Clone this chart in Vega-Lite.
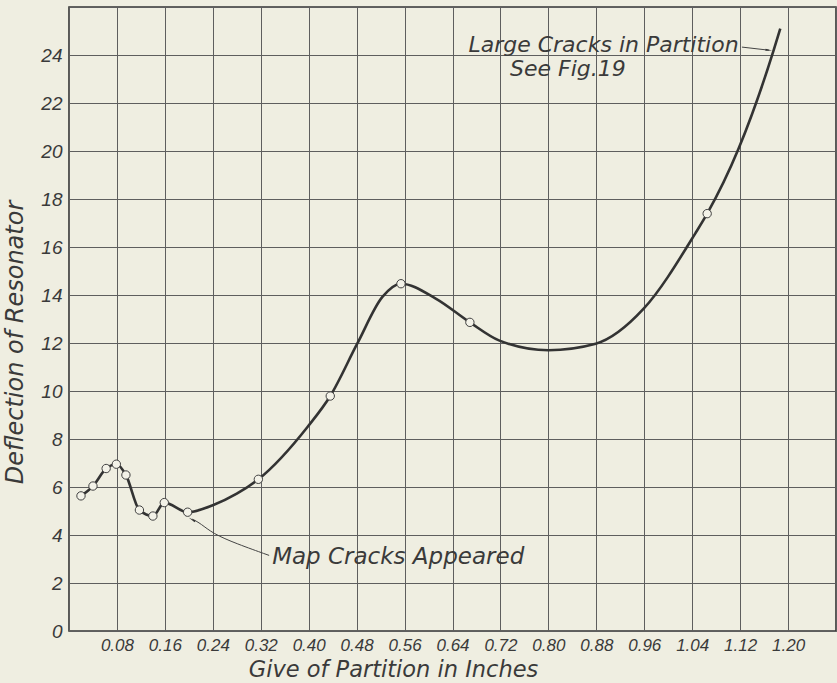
{
  "$schema": "https://vega.github.io/schema/vega-lite/v6.json",
  "width": 767,
  "height": 624,
  "autosize": {"type": "none"},
  "padding": {"left": 69, "top": 7, "right": 1, "bottom": 52},
  "background": "#efeee1",
  "config": {
    "view": {"stroke": "#353535", "strokeWidth": 1.6},
    "font": "DejaVu Sans",
    "axis": {
      "labelFont": "Liberation Sans", "labelFontStyle": "italic", "labelColor": "#3a3a3a",
      "titleFont": "DejaVu Sans", "titleFontStyle": "italic", "titleFontWeight": "normal", "titleColor": "#3a3a3a",
      "gridColor": "#5e5e5e", "gridWidth": 1, "gridOpacity": 1,
      "domain": false, "ticks": false
    }
  },
  "datasets": {
    "points": [
      {"give": 0.020, "deflection": 5.63},
      {"give": 0.040, "deflection": 6.04},
      {"give": 0.062, "deflection": 6.77},
      {"give": 0.079, "deflection": 6.95},
      {"give": 0.095, "deflection": 6.50},
      {"give": 0.1175, "deflection": 5.04},
      {"give": 0.140, "deflection": 4.79},
      {"give": 0.159, "deflection": 5.35},
      {"give": 0.198, "deflection": 4.95},
      {"give": 0.316, "deflection": 6.32},
      {"give": 0.436, "deflection": 9.79},
      {"give": 0.554, "deflection": 14.47},
      {"give": 0.669, "deflection": 12.86},
      {"give": 1.065, "deflection": 17.39}
    ],
    "curve": [
      {"give": 0.020, "deflection": 5.63},
      {"give": 0.040, "deflection": 6.04},
      {"give": 0.062, "deflection": 6.77},
      {"give": 0.079, "deflection": 6.95},
      {"give": 0.095, "deflection": 6.50},
      {"give": 0.1175, "deflection": 5.04},
      {"give": 0.140, "deflection": 4.79},
      {"give": 0.159, "deflection": 5.35},
      {"give": 0.198, "deflection": 4.95},
      {"give": 0.240, "deflection": 5.24},
      {"give": 0.280, "deflection": 5.72},
      {"give": 0.316, "deflection": 6.32},
      {"give": 0.398, "deflection": 8.50},
      {"give": 0.436, "deflection": 9.79},
      {"give": 0.481, "deflection": 11.97},
      {"give": 0.523, "deflection": 13.92},
      {"give": 0.554, "deflection": 14.47},
      {"give": 0.612, "deflection": 13.85},
      {"give": 0.669, "deflection": 12.86},
      {"give": 0.7175, "deflection": 12.11},
      {"give": 0.800, "deflection": 11.70},
      {"give": 0.879, "deflection": 11.97},
      {"give": 0.959, "deflection": 13.43},
      {"give": 1.045, "deflection": 16.56},
      {"give": 1.065, "deflection": 17.39},
      {"give": 1.1175, "deflection": 20.10},
      {"give": 1.176, "deflection": 24.20},
      {"give": 1.187, "deflection": 25.10}
    ],
    "leader": [
      {"give": 0.334, "deflection": 3.15},
      {"give": 0.279, "deflection": 3.64},
      {"give": 0.240, "deflection": 4.06},
      {"give": 0.220, "deflection": 4.475},
      {"give": 0.206, "deflection": 4.66}
    ],
    "arrow2": [
      {"give": 1.123, "deflection": 24.33},
      {"give": 1.168, "deflection": 24.20}
    ]
  },
  "layer": [
    {
      "data": {"name": "curve"},
      "mark": {"type": "line", "interpolate": "monotone", "color": "#333333", "strokeWidth": 2.6},
      "encoding": {
        "x": {
          "field": "give", "type": "quantitative",
          "scale": {"domain": [0, 1.28], "nice": false, "zero": false},
          "axis": {
            "values": [0, 0.08, 0.16, 0.24, 0.32, 0.40, 0.48, 0.56, 0.64, 0.72, 0.80, 0.88, 0.96, 1.04, 1.12, 1.20, 1.28],
            "labelExpr": "datum.value == 0 || datum.value > 1.25 ? '' : format(datum.value, '.2f')",
            "labelFontSize": 17, "labelPadding": 6, "labelFlush": false, "labelOverlap": false,
            "title": "Give of Partition in Inches",
            "titleFontSize": 22.5, "titleX": 324, "titleY": 45, "titleAlign": "center", "titleBaseline": "alphabetic"
          }
        },
        "y": {
          "field": "deflection", "type": "quantitative",
          "scale": {"domain": [0, 26], "nice": false, "zero": false},
          "axis": {
            "values": [0, 2, 4, 6, 8, 10, 12, 14, 16, 18, 20, 22, 24, 26],
            "labelExpr": "datum.value > 25 ? '' : datum.label",
            "labelFontSize": 19, "labelPadding": 7, "labelFlush": false, "labelOverlap": false,
            "title": "Deflection of Resonator",
            "titleFontSize": 24, "titleX": -47, "titleY": 335, "titleAngle": -90, "titleAlign": "center", "titleBaseline": "alphabetic"
          }
        }
      }
    },
    {
      "data": {"name": "points"},
      "mark": {"type": "point", "shape": "circle", "filled": true, "fill": "#f3f2e8", "stroke": "#404040", "strokeWidth": 1, "size": 70, "opacity": 1},
      "encoding": {
        "x": {"field": "give", "type": "quantitative", "scale": {"domain": [0, 1.28], "nice": false, "zero": false}},
        "y": {"field": "deflection", "type": "quantitative", "scale": {"domain": [0, 26], "nice": false, "zero": false}}
      }
    },
    {
      "data": {"name": "leader"},
      "mark": {"type": "line", "interpolate": "basis", "color": "#444444", "strokeWidth": 1},
      "encoding": {
        "x": {"field": "give", "type": "quantitative", "scale": {"domain": [0, 1.28], "nice": false, "zero": false}},
        "y": {"field": "deflection", "type": "quantitative", "scale": {"domain": [0, 26], "nice": false, "zero": false}}
      }
    },
    {
      "data": {"values": [{"give": 0.207, "deflection": 4.62}]},
      "mark": {"type": "point", "shape": "wedge", "filled": true, "color": "#333333", "size": 70, "angle": 300, "opacity": 1},
      "encoding": {
        "x": {"field": "give", "type": "quantitative", "scale": {"domain": [0, 1.28], "nice": false, "zero": false}},
        "y": {"field": "deflection", "type": "quantitative", "scale": {"domain": [0, 26], "nice": false, "zero": false}}
      }
    },
    {
      "data": {"name": "arrow2"},
      "mark": {"type": "line", "color": "#444444", "strokeWidth": 1},
      "encoding": {
        "x": {"field": "give", "type": "quantitative", "scale": {"domain": [0, 1.28], "nice": false, "zero": false}},
        "y": {"field": "deflection", "type": "quantitative", "scale": {"domain": [0, 26], "nice": false, "zero": false}}
      }
    },
    {
      "data": {"values": [{"give": 1.166, "deflection": 24.21}]},
      "mark": {"type": "point", "shape": "wedge", "filled": true, "color": "#333333", "size": 60, "angle": 96, "opacity": 1},
      "encoding": {
        "x": {"field": "give", "type": "quantitative", "scale": {"domain": [0, 1.28], "nice": false, "zero": false}},
        "y": {"field": "deflection", "type": "quantitative", "scale": {"domain": [0, 26], "nice": false, "zero": false}}
      }
    },
    {
      "data": {"values": [{"give": 1.1175, "deflection": 24.12, "note": "Large Cracks in Partition"}]},
      "mark": {"type": "text", "align": "right", "baseline": "alphabetic", "fontSize": 22, "fontStyle": "italic", "color": "#3a3a3a"},
      "encoding": {
        "x": {"field": "give", "type": "quantitative", "scale": {"domain": [0, 1.28], "nice": false, "zero": false}},
        "y": {"field": "deflection", "type": "quantitative", "scale": {"domain": [0, 26], "nice": false, "zero": false}},
        "text": {"field": "note"}
      }
    },
    {
      "data": {"values": [{"give": 0.8325, "deflection": 23.12, "note": "See Fig.19"}]},
      "mark": {"type": "text", "align": "center", "baseline": "alphabetic", "fontSize": 22, "fontStyle": "italic", "color": "#3a3a3a"},
      "encoding": {
        "x": {"field": "give", "type": "quantitative", "scale": {"domain": [0, 1.28], "nice": false, "zero": false}},
        "y": {"field": "deflection", "type": "quantitative", "scale": {"domain": [0, 26], "nice": false, "zero": false}},
        "text": {"field": "note"}
      }
    },
    {
      "data": {"values": [{"give": 0.339, "deflection": 2.78, "note": "Map Cracks Appeared"}]},
      "mark": {"type": "text", "align": "left", "baseline": "alphabetic", "fontSize": 23, "fontStyle": "italic", "color": "#3a3a3a"},
      "encoding": {
        "x": {"field": "give", "type": "quantitative", "scale": {"domain": [0, 1.28], "nice": false, "zero": false}},
        "y": {"field": "deflection", "type": "quantitative", "scale": {"domain": [0, 26], "nice": false, "zero": false}},
        "text": {"field": "note"}
      }
    }
  ]
}
